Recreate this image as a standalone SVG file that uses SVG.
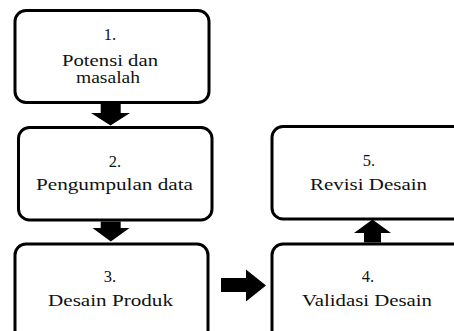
<svg xmlns="http://www.w3.org/2000/svg" width="454" height="331" viewBox="0 0 454 331">
<style>
.box{fill:#fff;stroke:#000;stroke-width:3}
.t{font-family:"Liberation Serif","Times New Roman",serif;font-size:16.5px;fill:#111;text-anchor:middle}
.arr{fill:#000;stroke:none}
</style>
<rect width="454" height="331" fill="#fff"/>
<g id="node1">
<rect class="box" x="15" y="10.5" width="194" height="92" rx="11"/>
<text class="t" x="110" y="40">1.</text>
<text class="t" x="110" y="66" textLength="96" lengthAdjust="spacingAndGlyphs">Potensi dan</text>
<text class="t" x="108" y="83" textLength="64" lengthAdjust="spacingAndGlyphs">masalah</text>
</g>
<g id="node2">
<rect class="box" x="18.5" y="127.5" width="193.5" height="92.5" rx="11"/>
<text class="t" x="115" y="167">2.</text>
<text class="t" x="114.5" y="190" textLength="157" lengthAdjust="spacingAndGlyphs">Pengumpulan data</text>
</g>
<g id="node3">
<rect class="box" x="15" y="244" width="193" height="100" rx="11"/>
<text class="t" x="110" y="282">3.</text>
<text class="t" x="110.5" y="305.5" textLength="125" lengthAdjust="spacingAndGlyphs">Desain Produk</text>
</g>
<g id="node4">
<rect class="box" x="272" y="244" width="192" height="100" rx="11"/>
<text class="t" x="368" y="282">4.</text>
<text class="t" x="367" y="305.5" textLength="130" lengthAdjust="spacingAndGlyphs">Validasi Desain</text>
</g>
<g id="node5">
<rect class="box" x="272" y="126.5" width="192" height="92.5" rx="11"/>
<text class="t" x="369" y="166">5.</text>
<text class="t" x="368.5" y="190" textLength="117" lengthAdjust="spacingAndGlyphs">Revisi Desain</text>
</g>
<g id="connectors">
<polygon class="arr" points="100.7,104 120.7,104 120.7,113 130,113 110.5,125.5 91,113 100.7,113"/>
<polygon class="arr" points="100.7,221.5 120.7,221.5 120.7,228 129.5,228 110.8,241.5 92.5,228 100.7,228"/>
<polygon class="arr" points="221,278 246,278 246,269.5 266,285.5 246,301.5 246,292 221,292"/>
<polygon class="arr" points="364,242.5 381,242.5 381,233 391,233 372.5,219.5 354,233 364,233"/>
</g>
</svg>
